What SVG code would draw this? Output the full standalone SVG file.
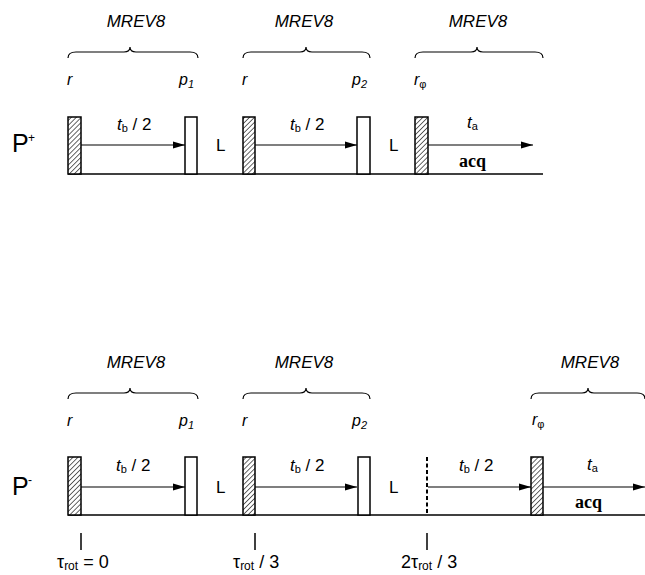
<svg xmlns="http://www.w3.org/2000/svg" width="645" height="575" viewBox="0 0 645 575">
<defs>
<pattern id="hatch" patternUnits="userSpaceOnUse" width="3.5" height="3.5" patternTransform="rotate(45)">
<rect width="3.5" height="3.5" fill="#fff"/>
<line x1="0" y1="0" x2="0" y2="3.5" stroke="#000" stroke-width="1.2"/>
</pattern>
<marker id="ah" markerWidth="12" markerHeight="8" refX="12" refY="4" orient="auto" markerUnits="userSpaceOnUse">
<path d="M0,0.5 L12,4 L0,7.5 Z" fill="#000"/>
</marker>
</defs>
<style>
.sans{font-family:"Liberation Sans",Arial,sans-serif;}
.mrev{font-family:"Liberation Sans",Arial,sans-serif;font-style:italic;font-size:17px;text-anchor:middle;}
.lab{font-family:"Liberation Sans",Arial,sans-serif;font-style:italic;font-size:16px;}
.tl{font-family:"Liberation Sans",Arial,sans-serif;font-size:17px;}
.acq{font-family:"Liberation Serif","Times New Roman",serif;font-weight:bold;font-size:18px;}
.tau{font-family:"Liberation Sans",Arial,sans-serif;font-size:18px;}
.phi{font-family:"Liberation Sans","DejaVu Sans",sans-serif;font-style:normal;font-size:11px;}
.hp{fill:url(#hatch);stroke:#000;stroke-width:1.5;}
.op{fill:#fff;stroke:#000;stroke-width:1.5;}
.ln{stroke:#000;stroke-width:1.5;fill:none;}
.ar{stroke:#000;stroke-width:1.2;fill:none;marker-end:url(#ah);}
.br{stroke:#000;stroke-width:1.2;fill:none;}
</style>

<!-- Top panel: P+ -->
<g id="label-Pplus">
<text class="sans" x="12" y="152" font-size="25">P</text>
<text class="sans" x="28" y="142" font-size="12">+</text>
</g>

<g id="connectors">
<line class="ln" x1="68" y1="174" x2="543" y2="174"/>
<line class="ar" x1="81" y1="145" x2="185" y2="145"/>
<line class="ar" x1="255" y1="145" x2="357" y2="145"/>
<line class="ar" x1="428" y1="145" x2="533" y2="145"/>
<line class="ln" x1="68" y1="515" x2="645" y2="515"/>
<line class="ar" x1="81" y1="487" x2="185" y2="487"/>
<line class="ar" x1="255" y1="487" x2="357" y2="487"/>
<line class="ar" x1="428" y1="487" x2="531" y2="487"/>
<line class="ar" x1="543" y1="487" x2="645" y2="487"/>
<line x1="427" y1="457" x2="427" y2="515" stroke="#000" stroke-width="2" stroke-dasharray="4,2.5"/>
<line class="ln" x1="81" y1="533" x2="81" y2="550"/>
<line class="ln" x1="255" y1="533" x2="255" y2="550"/>
<line class="ln" x1="427" y1="533" x2="427" y2="550"/>
</g>

<!-- Top braces -->
<g id="top-mrev1">
<text class="mrev" x="136" y="27">MREV8</text>
<path class="br" d="M68,58 Q68,52 76,52 L124,52 Q130,52 130,47 Q130,52 136,52 L190,52 Q198,52 198,58"/>
</g>
<g id="top-mrev2">
<text class="mrev" x="304" y="27">MREV8</text>
<path class="br" d="M243,58 Q243,52 251,52 L300,52 Q306,52 306,47 Q306,52 312,52 L362,52 Q370,52 370,58"/>
</g>
<g id="top-mrev3">
<text class="mrev" x="478" y="27">MREV8</text>
<path class="br" d="M415,58 Q415,52 423,52 L471,52 Q477,52 477,47 Q477,52 483,52 L535,52 Q543,52 543,58"/>
</g>

<!-- Top pulses -->
<g id="top-r1">
<rect class="hp" x="68" y="117" width="13" height="57"/>
<text class="lab" x="67" y="85">r</text>
</g>
<g id="top-p1">
<rect class="op" x="185" y="117" width="12" height="57"/>
<text class="lab" x="179" y="85">p<tspan font-size="11" dy="3">1</tspan></text>
</g>
<g id="top-L1"><text class="tl" x="216" y="151" font-size="18">L</text></g>
<g id="top-r2">
<rect class="hp" x="243" y="117" width="12" height="57"/>
<text class="lab" x="242" y="85">r</text>
</g>
<g id="top-p2">
<rect class="op" x="357" y="117" width="13" height="57"/>
<text class="lab" x="352" y="85">p<tspan font-size="11" dy="3">2</tspan></text>
</g>
<g id="top-L2"><text class="tl" x="389" y="151" font-size="18">L</text></g>
<g id="top-rphi">
<rect class="hp" x="415" y="117" width="13" height="57"/>
<text class="lab" x="414" y="85">r<tspan class="phi" dy="3">φ</tspan></text>
</g>

<!-- Top delay labels -->
<g id="top-tb1"><text class="tl" x="117" y="130"><tspan font-style="italic">t</tspan><tspan font-size="11" dy="2">b</tspan><tspan dy="-2"> / 2</tspan></text></g>
<g id="top-tb2"><text class="tl" x="290" y="130"><tspan font-style="italic">t</tspan><tspan font-size="11" dy="2">b</tspan><tspan dy="-2"> / 2</tspan></text></g>
<g id="top-ta"><text class="tl" x="467" y="128"><tspan font-style="italic">t</tspan><tspan font-size="11" dy="2">a</tspan></text></g>
<g id="top-acq"><text class="acq" x="459" y="167">acq</text></g>

<!-- Bottom panel: P- -->
<g id="label-Pminus">
<text class="sans" x="12" y="495" font-size="25">P</text>
<text class="sans" x="28" y="484" font-size="12">-</text>
</g>

<!-- Bottom braces -->
<g id="bot-mrev1">
<text class="mrev" x="136" y="368">MREV8</text>
<path class="br" d="M68,399 Q68,393 76,393 L124,393 Q130,393 130,388 Q130,393 136,393 L190,393 Q198,393 198,399"/>
</g>
<g id="bot-mrev2">
<text class="mrev" x="304" y="368">MREV8</text>
<path class="br" d="M243,399 Q243,393 251,393 L300,393 Q306,393 306,388 Q306,393 312,393 L362,393 Q370,393 370,399"/>
</g>
<g id="bot-mrev3">
<text class="mrev" x="590" y="368">MREV8</text>
<path class="br" d="M531,399 Q531,393 539,393 L582,393 Q588,393 588,388 Q588,393 594,393 L637,393 Q645,393 645,399"/>
</g>

<!-- Bottom pulses -->
<g id="bot-r1">
<rect class="hp" x="68" y="457" width="13" height="58"/>
<text class="lab" x="67" y="426">r</text>
</g>
<g id="bot-p1">
<rect class="op" x="185" y="457" width="12" height="58"/>
<text class="lab" x="179" y="426">p<tspan font-size="11" dy="3">1</tspan></text>
</g>
<g id="bot-L1"><text class="tl" x="216" y="493" font-size="18">L</text></g>
<g id="bot-r2">
<rect class="hp" x="243" y="457" width="12" height="58"/>
<text class="lab" x="242" y="426">r</text>
</g>
<g id="bot-p2">
<rect class="op" x="358" y="457" width="12" height="58"/>
<text class="lab" x="352" y="426">p<tspan font-size="11" dy="3">2</tspan></text>
</g>
<g id="bot-L2"><text class="tl" x="389" y="493" font-size="18">L</text></g>
<g id="bot-rphi">
<rect class="hp" x="531" y="457" width="12" height="58"/>
<text class="lab" x="532" y="425">r<tspan class="phi" dy="3">φ</tspan></text>
</g>

<!-- Bottom delay labels -->
<g id="bot-tb1"><text class="tl" x="116" y="471"><tspan font-style="italic">t</tspan><tspan font-size="11" dy="2">b</tspan><tspan dy="-2"> / 2</tspan></text></g>
<g id="bot-tb2"><text class="tl" x="290" y="471"><tspan font-style="italic">t</tspan><tspan font-size="11" dy="2">b</tspan><tspan dy="-2"> / 2</tspan></text></g>
<g id="bot-tb3"><text class="tl" x="459" y="471"><tspan font-style="italic">t</tspan><tspan font-size="11" dy="2">b</tspan><tspan dy="-2"> / 2</tspan></text></g>
<g id="bot-ta"><text class="tl" x="587" y="470"><tspan font-style="italic">t</tspan><tspan font-size="11" dy="2">a</tspan></text></g>
<g id="bot-acq"><text class="acq" x="575" y="508">acq</text></g>

<!-- Time labels -->
<g id="time0"><text class="tau" x="57" y="568">τ<tspan font-size="12" dy="2">rot</tspan><tspan dy="-2"> = 0</tspan></text></g>
<g id="time1"><text class="tau" x="233" y="568">τ<tspan font-size="12" dy="2">rot</tspan><tspan dy="-2"> / 3</tspan></text></g>
<g id="time2"><text class="tau" x="401" y="568">2τ<tspan font-size="12" dy="2">rot</tspan><tspan dy="-2"> / 3</tspan></text></g>
</svg>
